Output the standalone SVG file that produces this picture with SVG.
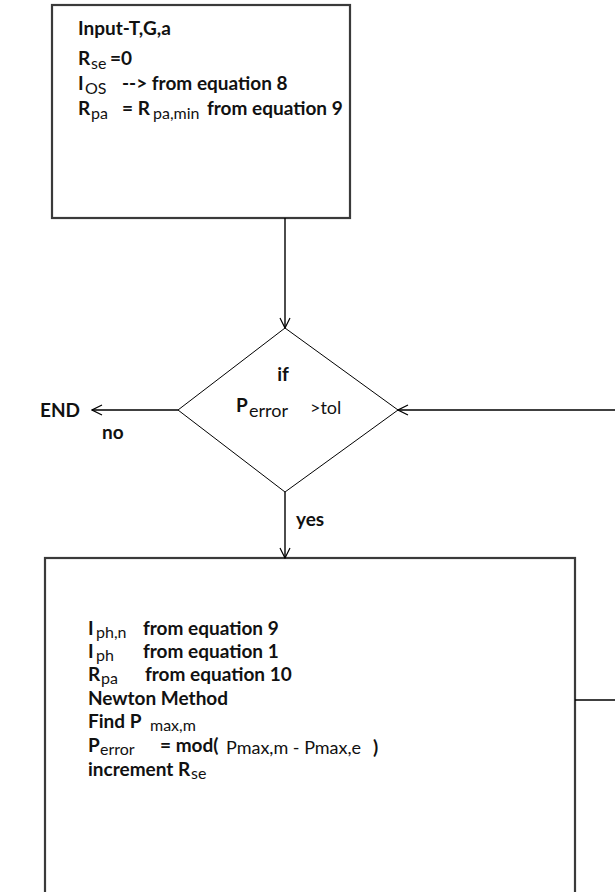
<svg xmlns="http://www.w3.org/2000/svg" width="615" height="892" viewBox="0 0 615 892">
<defs>
<style>
.box{fill:#fff;stroke:#3a3a3a;stroke-width:2.2}
.dia{fill:#fff;stroke:#000;stroke-width:1}
.ln{fill:none;stroke:#000;stroke-width:1.4}
text{font-family:Lato,"Open Sans","Liberation Sans",sans-serif;fill:#111}
.b{font-weight:bold;font-size:19px}
.s{font-weight:normal;font-size:16px}
.m{font-weight:normal;font-size:18px}
</style>
<marker id="ah" viewBox="0 0 12 12" refX="11" refY="6" markerWidth="12" markerHeight="12" markerUnits="userSpaceOnUse" orient="auto">
<path d="M1,1 L11,6 L1,11" fill="none" stroke="#000" stroke-width="1.2"/>
</marker>
</defs>
<rect width="615" height="892" fill="#fff"/>
<g id="init">
<rect class="box" x="52" y="5" width="298" height="213"/>
<text class="b" x="78" y="35">Input-T,G,a</text>
<text class="b" x="78" y="65">R<tspan class="s" x="91" y="69">se</tspan><tspan x="110" y="65">=0</tspan></text>
<text class="b" x="78" y="90">I<tspan class="s" x="85" y="94">OS</tspan><tspan x="122" y="90">--&gt; from equation 8</tspan></text>
<text class="b" x="78" y="115">R<tspan class="s" x="91" y="119">pa</tspan><tspan x="122" y="115">= R</tspan><tspan class="s" x="153" y="119">pa,min</tspan><tspan x="207" y="115">from equation 9</tspan></text>
</g>
<g id="decision">
<polygon class="dia" points="285,328 398,410 285,492 178,410"/>
<text class="b" x="283" y="381" text-anchor="middle">if</text>
<text class="b" x="236" y="412">P<tspan class="m" x="249" y="417">error</tspan><tspan class="m" x="310" y="414">&gt;tol</tspan></text>
</g>
<g id="end">
<text class="b" x="40" y="417">END</text>
</g>
<g id="loop">
<rect class="box" x="45" y="558" width="530" height="340"/>
<text class="b" x="88" y="635">I<tspan class="s" x="96" y="638">ph,n</tspan><tspan x="143" y="635">from equation 9</tspan></text>
<text class="b" x="88" y="658">I<tspan class="s" x="96" y="661">ph</tspan><tspan x="143" y="658">from equation 1</tspan></text>
<text class="b" x="88" y="681">R<tspan class="s" x="101" y="684">pa</tspan><tspan x="145" y="681">from equation 10</tspan></text>
<text class="b" x="88" y="705">Newton Method</text>
<text class="b" x="88" y="728">Find P<tspan class="s" x="150" y="731">max,m</tspan></text>
<text class="b" x="88" y="752">P<tspan class="s" x="100" y="755">error</tspan><tspan x="160" y="752">= mod(</tspan><tspan class="m" x="226" y="754">Pmax,m - Pmax,e</tspan><tspan x="373" y="754">)</tspan></text>
<text class="b" x="88" y="776">increment R<tspan class="s" x="191" y="779">se</tspan></text>
</g>
<g id="connectors">
<line class="ln" x1="285" y1="218" x2="285" y2="328" marker-end="url(#ah)"/>
<line class="ln" x1="178" y1="410" x2="92" y2="410" marker-end="url(#ah)"/>
<line class="ln" x1="285" y1="492" x2="285" y2="558" marker-end="url(#ah)"/>
<line class="ln" x1="575" y1="700" x2="615" y2="700"/>
<line class="ln" x1="615" y1="410" x2="398" y2="410" marker-end="url(#ah)"/>
<text class="b" x="102" y="439">no</text>
<text class="b" x="296" y="526">yes</text>
</g>
</svg>
